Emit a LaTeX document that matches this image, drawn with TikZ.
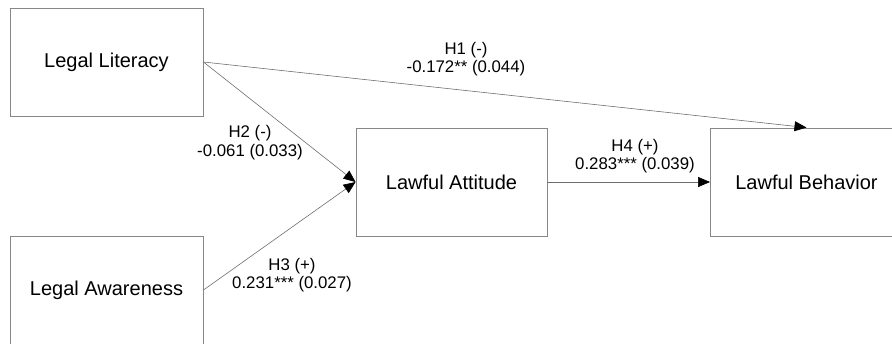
\documentclass[tikz,border=0pt]{standalone}
\usepackage{fontspec}
\setmainfont{Liberation Sans}
\usetikzlibrary{arrows.meta}
\definecolor{boxgray}{RGB}{135,135,135}
\definecolor{linegray}{RGB}{110,110,110}
\tikzset{
  var/.style={draw=boxgray, line width=0.9pt, rectangle, minimum width=193pt, minimum height=108pt, inner sep=0pt, font=\fontsize{20}{24}\selectfont},
  path/.style={draw=linegray, line width=0.6pt, -{Triangle[length=12pt,width=10pt,fill=black,color=black]}},
  lbl/.style={align=center, inner sep=0pt, font=\fontsize{16.8}{18.5}\selectfont}
}
\begin{document}
\begin{tikzpicture}[x=1pt,y=-1pt]
\useasboundingbox (0,0) rectangle (892,343);
\clip (0,0) rectangle (892,343);
\node[var] (lit) at (106.5,62) {Legal Literacy};
\node[var] (awa) at (106.5,290) {Legal Awareness};
\node[var, minimum width=191pt] (att) at (451.5,182) {Lawful Attitude};
\node[var, minimum width=192pt] (beh) at (806.5,182) {Lawful Behavior};
\draw[path] (lit.east) -- (beh.north);
\draw[path] (lit.east) -- (att.west);
\draw[path] (awa.east) -- (att.west);
\draw[path] (att.east) -- (beh.west);
\node[lbl] (l1) at (466,59) {H1 (-)\\-0.172** (0.044)};
\node[lbl] (l2) at (250,142.5) {H2 (-)\\-0.061 (0.033)};
\node[lbl] (l3) at (292,275) {H3 (+)\\0.231*** (0.027)};
\node[lbl] (l4) at (635,156) {H4 (+)\\0.283*** (0.039)};
\end{tikzpicture}
\end{document}
